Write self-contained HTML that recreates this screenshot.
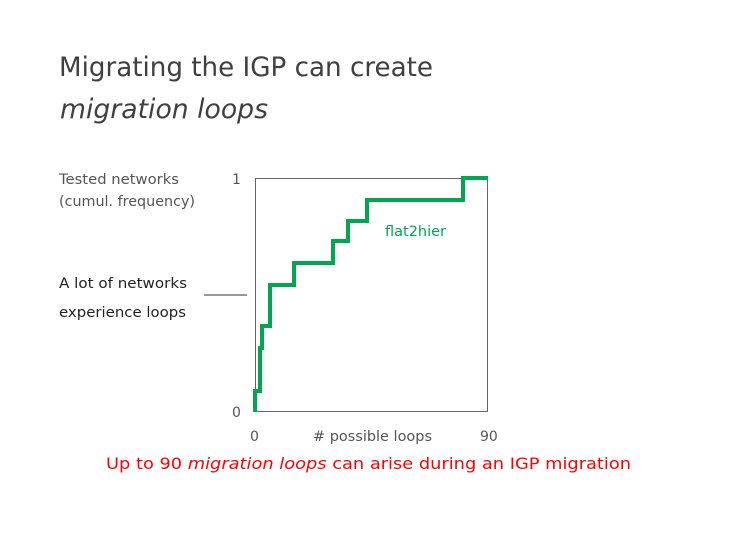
<!DOCTYPE html>
<html><head><style>html,body{margin:0;padding:0;background:#fff;}</style></head>
<body>
<svg width="744" height="558" xmlns="http://www.w3.org/2000/svg" style="display:block">
<g font-family="'DejaVu Sans', 'Liberation Sans', sans-serif" fill="#404040">
<text x="59" y="76" font-size="27" textLength="374" lengthAdjust="spacingAndGlyphs">Migrating the IGP can create</text>
<text x="60" y="118" font-size="27" font-style="italic" textLength="208" lengthAdjust="spacingAndGlyphs">migration loops</text>
<text x="59" y="184" font-size="14" textLength="120" lengthAdjust="spacingAndGlyphs" fill="#555">Tested networks</text>
<text x="59" y="206" font-size="14" textLength="136" lengthAdjust="spacingAndGlyphs" fill="#555">(cumul. frequency)</text>
<text x="59" y="288" font-size="14" textLength="128" lengthAdjust="spacingAndGlyphs" fill="#222">A lot of networks</text>
<text x="59" y="317" font-size="14" textLength="127" lengthAdjust="spacingAndGlyphs" fill="#222">experience loops</text>
<text x="232" y="184" font-size="14" fill="#555">1</text>
<text x="232" y="417" font-size="14" fill="#555">0</text>
<text x="250" y="441" font-size="14" fill="#555">0</text>
<text x="313" y="441" font-size="14" textLength="119" lengthAdjust="spacingAndGlyphs" fill="#555">#  possible loops</text>
<text x="480" y="441" font-size="14" fill="#555">90</text>
<text x="385" y="236" font-size="14" fill="#00a650" textLength="61" lengthAdjust="spacingAndGlyphs">flat2hier</text>
<text x="106" y="469" font-size="16" fill="#ff0000" textLength="525" lengthAdjust="spacingAndGlyphs">Up to 90 <tspan font-style="italic">migration loops</tspan> can arise during an IGP migration</text>
</g>
<line x1="204" y1="295" x2="247" y2="295" stroke="#333" stroke-width="1"/>
<rect x="255.5" y="178.5" width="232" height="233" fill="none" stroke="#666" stroke-width="1"/>
<polyline fill="none" stroke="#00a650" stroke-width="4" points="255,412 255,391 260,391 260,348 262,348 262,326 270,326 270,285 294,285 294,263 333,263 333,241 348,241 348,221 367,221 367,200 463,200 463,178 488,178"/>
</svg>
</body></html>
